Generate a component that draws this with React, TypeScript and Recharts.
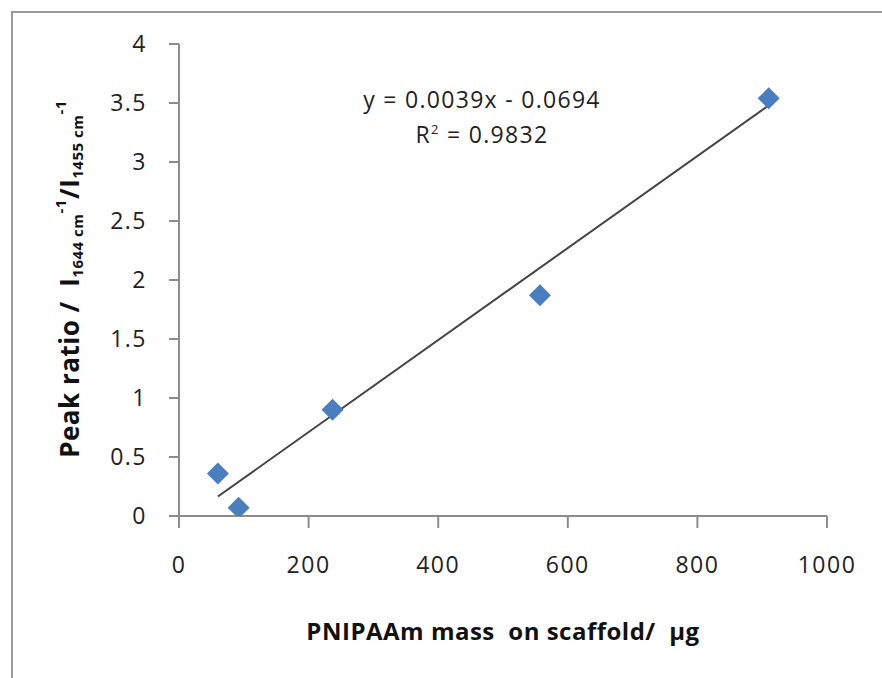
import { ScatterChart, Scatter, XAxis, YAxis, Label } from 'recharts';

// measured points: PNIPAAm mass (µg) vs peak ratio
const massUg = [60, 92, 237, 557, 910];
const peakRatio = [0.36, 0.07, 0.9, 1.87, 3.54];

// linear trendline end points (y = 0.0039x - 0.0694)
const trendX = [60, 910];
const trendY = [0.165, 3.48];

const xTicks = [0, 200, 400, 600, 800, 1000];
const yTicks = [0, 0.5, 1, 1.5, 2, 2.5, 3, 3.5, 4];

const points = massUg.map((x, i) => ({ x, y: peakRatio[i] }));
const trend = trendX.map((x, i) => ({ x, y: trendY[i] }));

const FONT = '"Open Sans", sans-serif';
const AXIS = '#8c8c8c';
const tickStyle = { fontFamily: FONT, fontSize: 23, fill: '#222', letterSpacing: 1.5 };

// diamond marker like the spreadsheet one
const Diamond = (props: any) => {
  const { cx, cy } = props;
  const r = 11;
  return (
    <path
      d={`M${cx},${cy - r} L${cx + r},${cy} L${cx},${cy + r} L${cx - r},${cy} Z`}
      fill="#4a7ebf"
    />
  );
};

// rotated y title with subscripts / superscripts
const YTitle = () => {
  const cx = 69;
  const cy = 279;
  return (
    <text
      x={cx}
      y={cy}
      transform={`rotate(-90 ${cx} ${cy})`}
      textAnchor="middle"
      dominantBaseline="central"
      fontFamily={FONT}
      fontWeight="bold"
      fontSize={26}
      letterSpacing={0.5}
      fill="#111"
      style={{ whiteSpace: 'pre' }}
    >
      <tspan>{'Peak ratio /  I'}</tspan>
      <tspan fontSize={15} dy={8}>1644 cm</tspan>
      <tspan fontSize={15} dy={-17}>-1</tspan>
      <tspan dy={9}>/I</tspan>
      <tspan fontSize={15} dy={8}>1455 cm</tspan>
      <tspan fontSize={15} dy={-17}>-1</tspan>
    </text>
  );
};

export default function App() {
  return (
    <div style={{ position: 'absolute', left: 0, top: 0, width: 882, height: 678, background: '#fff', overflow: 'hidden' }}>
      <div style={{ position: 'absolute', left: 11, top: 11, width: 900, height: 700, borderLeft: '2px solid #9a9a9a', borderTop: '2px solid #9a9a9a' }} />
      <div style={{ position: 'absolute', left: 332, top: 82, width: 300, textAlign: 'center', fontFamily: FONT, fontSize: 23, letterSpacing: 1.3, lineHeight: '35px', color: '#222' }}>
        <div>y = 0.0039x - 0.0694</div>
        <div>
          R<sup style={{ fontSize: 13, verticalAlign: 'top', lineHeight: '24px' }}>2</sup> = 0.9832
        </div>
      </div>
      <ScatterChart
        width={882}
        height={678}
        margin={{ top: 44, right: 55, bottom: 132, left: 99 }}
        style={{ position: 'absolute', left: 0, top: 0 }}
      >
        <XAxis
          type="number"
          dataKey="x"
          domain={[0, 1000]}
          ticks={xTicks}
          height={30}
          stroke={AXIS}
          strokeWidth={2}
          tickSize={12}
          tickMargin={29}
          tick={tickStyle}
          allowDataOverflow
        >
          <Label
            value={'PNIPAAm mass\u00a0\u00a0on scaffold/\u00a0\u00a0µg'}
            position="bottom"
            offset={77}
            style={{ fontFamily: FONT, fontWeight: 'bold', fontSize: 24, fill: '#111', letterSpacing: 0.5 }}
          />
        </XAxis>
        <YAxis
          type="number"
          dataKey="y"
          domain={[0, 4]}
          ticks={yTicks}
          width={80}
          stroke={AXIS}
          strokeWidth={2}
          tickSize={10}
          tickMargin={22}
          tick={tickStyle}
          allowDataOverflow
        >
          <Label content={<YTitle />} />
        </YAxis>
        <Scatter
          data={trend}
          line={{ stroke: '#444', strokeWidth: 2 }}
          shape={() => null}
          isAnimationActive={false}
        />
        <Scatter data={points} shape={<Diamond />} isAnimationActive={false} />
      </ScatterChart>
    </div>
  );
}
